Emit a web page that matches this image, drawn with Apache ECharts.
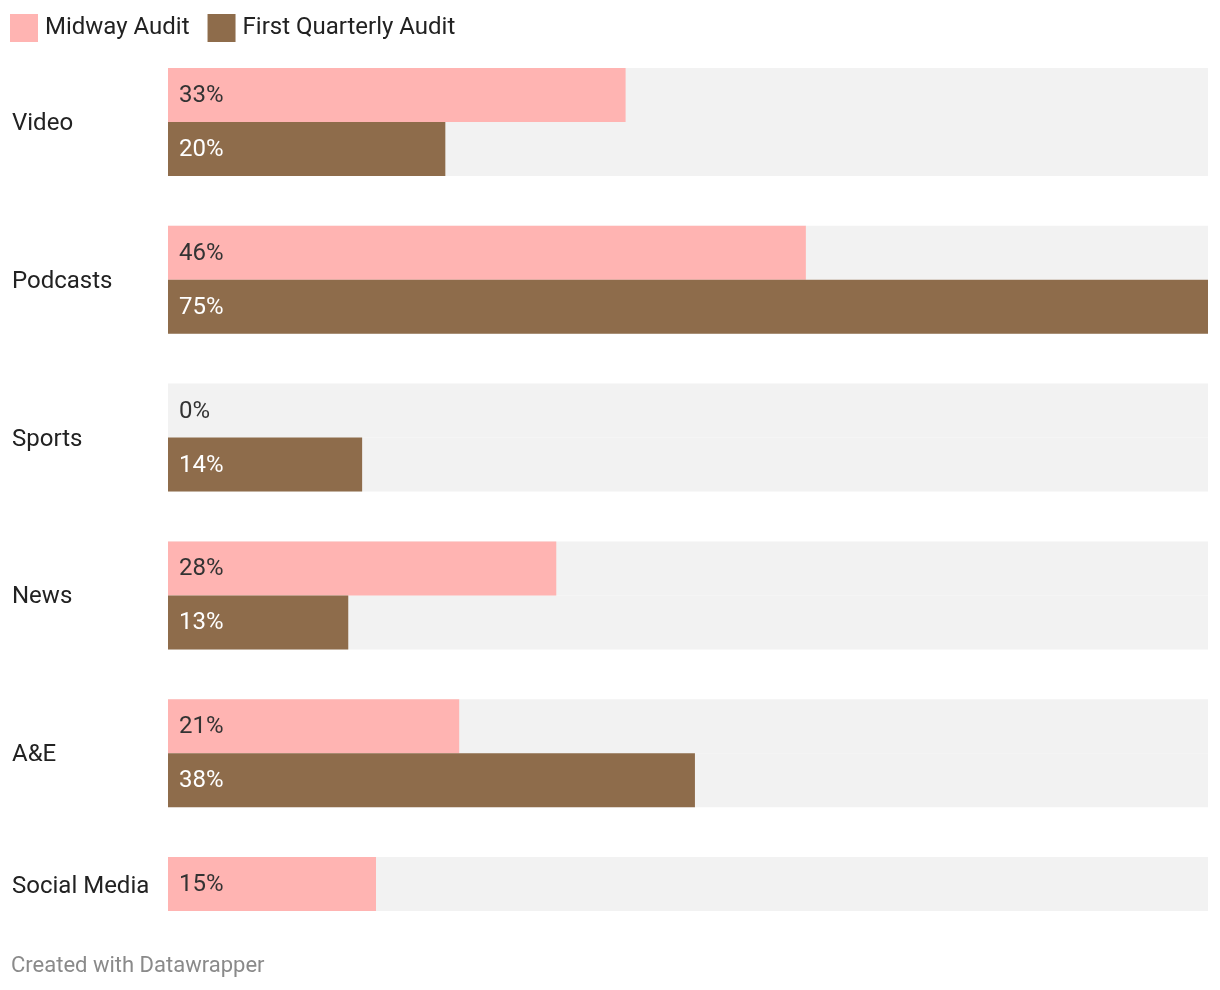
<!DOCTYPE html>
<html>
<head>
<meta charset="utf-8">
<script src="https://cdn.jsdelivr.net/npm/echarts@6/dist/echarts.min.js"></script>
<style>
  html, body { margin: 0; padding: 0; background: #ffffff; }
  #chart { width: 1220px; height: 990px; }
</style>
</head>
<body>
<div id="chart"></div>
<script>
const categories = ['Video', 'Podcasts', 'Sports', 'News', 'A&E', 'Social Media'];
const seriesNames = ['Midway Audit', 'First Quarterly Audit'];
const midway = [33, 46, 0, 28, 21, 15];
const firstQuarterly = [20, 75, 14, 13, 38, null];
const footerText = 'Created with Datawrapper';

const allSeries = [midway, firstQuarterly];
const xMax = Math.max(...midway.filter(v => v != null), ...firstQuarterly.filter(v => v != null));

// background slots: one per existing value
const bgData = [];
categories.forEach((c, i) => {
  allSeries.forEach((arr, s) => {
    if (arr[i] != null) bgData.push([0, i, s]);
  });
});

const BAR_W = 54;
const FONT = 'Roboto, "Noto Sans", sans-serif';

const chart = echarts.init(document.getElementById('chart'), null, { renderer: 'canvas' });
chart.setOption({
  animation: false,
  backgroundColor: '#ffffff',
  textStyle: { fontFamily: FONT },
  title: {
    text: footerText,
    left: 11,
    top: 955,
    padding: 0,
    textStyle: { fontFamily: FONT, fontSize: 22, fontWeight: 'normal', color: '#8a8a8a' }
  },
  legend: {
    data: seriesNames,
    left: 10,
    top: 14,
    padding: 0,
    itemWidth: 28,
    itemHeight: 28,
    itemGap: 18,
    icon: 'rect',
    textStyle: { fontFamily: FONT, fontSize: 24, color: '#222222', padding: [0, 0, 0, 2] }
  },
  grid: { left: 168, right: 12, top: 43, height: 948, containLabel: false },
  xAxis: {
    type: 'value',
    min: 0,
    max: xMax,
    show: false
  },
  yAxis: {
    type: 'category',
    inverse: true,
    data: categories,
    axisLine: { show: false },
    axisTick: { show: false },
    splitLine: { show: false },
    axisLabel: {
      align: 'left',
      margin: 156,
      fontFamily: FONT,
      fontSize: 24,
      color: '#222222',
      formatter: (v, i) => (firstQuarterly[i] == null ? '{single|' + v + '}' : '{pair|' + v + '}'),
      rich: {
        pair: { fontFamily: FONT, fontSize: 24, color: '#222222', padding: [4, 0, 0, 0] },
        single: { fontFamily: FONT, fontSize: 24, color: '#222222', padding: [0, 0, 48, 0] }
      }
    }
  },
  series: [
    {
      type: 'custom',
      name: 'bg',
      z: 1,
      silent: true,
      encode: { x: 0, y: 1 },
      data: bgData,
      renderItem: (params, api) => {
        const cat = api.value(1);
        const s = api.value(2);
        const start = api.coord([0, cat]);
        const end = api.coord([xMax, cat]);
        return {
          type: 'rect',
          shape: { x: start[0], y: start[1] - BAR_W + s * BAR_W, width: end[0] - start[0], height: BAR_W },
          style: { fill: '#f2f2f2' }
        };
      }
    },
    {
      type: 'bar',
      name: seriesNames[0],
      data: midway,
      barWidth: BAR_W,
      barGap: '0%',
      z: 2,
      itemStyle: { color: '#ffb4b2' },
      label: {
        show: true,
        position: 'insideLeft',
        distance: 11,
        offset: [0, 1],
        formatter: p => p.value + '%',
        fontFamily: FONT,
        fontSize: 24,
        color: '#333333'
      }
    },
    {
      type: 'bar',
      name: seriesNames[1],
      data: firstQuarterly,
      barWidth: BAR_W,
      barGap: '0%',
      z: 2,
      itemStyle: { color: '#8e6c4b' },
      label: {
        show: true,
        position: 'insideLeft',
        distance: 11,
        offset: [0, 1],
        formatter: p => p.value + '%',
        fontFamily: FONT,
        fontSize: 24,
        color: '#ffffff'
      }
    }
  ]
});
</script>
</body>
</html>
